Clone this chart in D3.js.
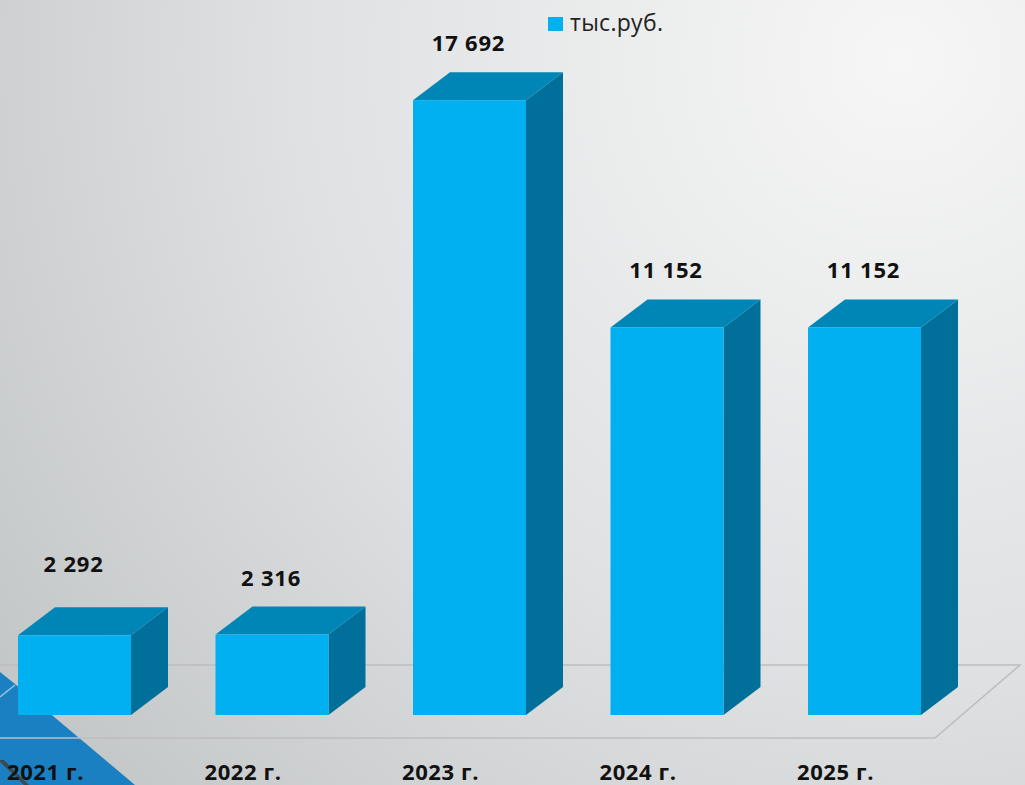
<!DOCTYPE html>
<html>
<head>
<meta charset="utf-8">
<script src="https://cdn.jsdelivr.net/npm/d3@7"></script>
<style>
  html, body { margin: 0; padding: 0; overflow: hidden; }
  svg { display: block; }
</style>
</head>
<body>
<svg></svg>
<script>
/* 3D column chart */
var w = 1025, h = 785;

var categories = ["2021 г.", "2022 г.", "2023 г.", "2024 г.", "2025 г."];
var values = [2292, 2316, 17692, 11152, 11152];
var valueLabels = ["2 292", "2 316", "17 692", "11 152", "11 152"];
var seriesName = "тыс.руб.";

var svg = d3.select("svg")
            .attr("width", w)
            .attr("height", h);

var defs = svg.append("defs");
var bg = defs.append("radialGradient")
             .attr("id", "bg")
             .attr("gradientUnits", "userSpaceOnUse")
             .attr("cx", 900).attr("cy", 60).attr("r", 1100);
bg.append("stop").attr("offset", "0").attr("stop-color", "#f6f6f6");
bg.append("stop").attr("offset", "0.55").attr("stop-color", "#dfe1e2");
bg.append("stop").attr("offset", "1").attr("stop-color", "#c3c6c7");

svg.append("rect")
   .attr("width", w).attr("height", h)
   .attr("fill", "url(#bg)");

// decoration in the bottom-left corner
var deco = svg.append("g");
deco.append("polygon")
    .attr("points", "0,672 15,684 135,785 0,785")
    .attr("fill", "#1a80c2");
deco.append("line")
    .attr("x1", 15).attr("y1", 685).attr("x2", 0).attr("y2", 697)
    .attr("stroke", "#9cc3dc").attr("stroke-width", 1.5);
deco.append("polygon")
    .attr("points", "0,760 4,760 29,785 24,785 0,762")
    .attr("fill", "#3a4a55");

var depthX = 37, depthY = 28;
var step = 197.5, gap = 84.5;

var x = d3.scaleBand()
          .domain(categories)
          .range([18, 18 + 5 * step - gap])
          .paddingInner(gap / step)
          .paddingOuter(0);

var y = d3.scaleLinear()
          .domain([0, 20000])
          .range([715, 20]);

// floor
var floor = svg.append("g").attr("class", "floor");
var fy0 = y(0) + 23, fy1 = y(0) - 50;
floor.append("path")
     .attr("d", "M0," + fy1 + "L1020," + fy1 + "L935," + fy0 + "L0," + fy0)
     .attr("fill", "none")
     .attr("stroke", "#bdbdbd")
     .attr("stroke-width", 1.5);

var bars = svg.append("g")
              .attr("class", "bars")
              .selectAll("g")
              .data(values)
              .enter()
              .append("g");

function xl(d, i) { return x(categories[i]); }
function xr(d, i) { return x(categories[i]) + x.bandwidth(); }

// right side face
bars.append("path")
    .attr("fill", "#006f99")
    .attr("d", function(d, i) {
      var l = xr(d, i), t = y(d), b = y(0);
      return "M" + l + "," + t + "L" + (l + depthX) + "," + (t - depthY) +
             "L" + (l + depthX) + "," + (b - depthY) + "L" + l + "," + b + "Z";
    });

// top face
bars.append("path")
    .attr("fill", "#0086b6")
    .attr("d", function(d, i) {
      var l = xl(d, i), r = xr(d, i), t = y(d);
      return "M" + l + "," + t + "L" + (l + depthX) + "," + (t - depthY) +
             "L" + (r + depthX) + "," + (t - depthY) + "L" + r + "," + t + "Z";
    });

// front face
bars.append("rect")
    .attr("fill", "#00b0f0")
    .attr("x", function(d, i) { return xl(d, i); })
    .attr("y", function(d) { return y(d); })
    .attr("width", x.bandwidth())
    .attr("height", function(d) { return y(0) - y(d); });

// value labels
svg.append("g")
   .selectAll("text")
   .data(values)
   .enter()
   .append("text")
   .attr("x", function(d, i) { return xl(d, i) + x.bandwidth() / 2 - 1; })
   .attr("y", function(d, i) { return y(d) - depthY - 21 - (i === 0 ? 14 : 0); })
   .attr("text-anchor", "middle")
   .attr("font-family", "'Open Sans', sans-serif")
   .attr("font-weight", "bold")
   .attr("font-size", 22)
   .attr("letter-spacing", 0.8)
   .attr("fill", "#111")
   .text(function(d, i) { return valueLabels[i]; });

// category labels
svg.append("g")
   .selectAll("text")
   .data(categories)
   .enter()
   .append("text")
   .attr("x", function(d) { return x(d) + x.bandwidth() / 2 - 29; })
   .attr("y", 780)
   .attr("text-anchor", "middle")
   .attr("font-family", "'Open Sans', sans-serif")
   .attr("font-weight", "bold")
   .attr("font-size", 22)
   .attr("letter-spacing", 0.6)
   .attr("fill", "#111")
   .text(function(d) { return d; });

// legend
var legend = svg.append("g").attr("transform", "translate(548,17)");
legend.append("rect")
      .attr("width", 15).attr("height", 14)
      .attr("fill", "#00b0f0");
legend.append("text")
      .attr("x", 22).attr("y", 14)
      .attr("font-family", "'Open Sans', sans-serif")
      .attr("font-size", 23)
      .attr("letter-spacing", 0.3)
      .attr("fill", "#222")
      .text(seriesName);
</script>
</body>
</html>
